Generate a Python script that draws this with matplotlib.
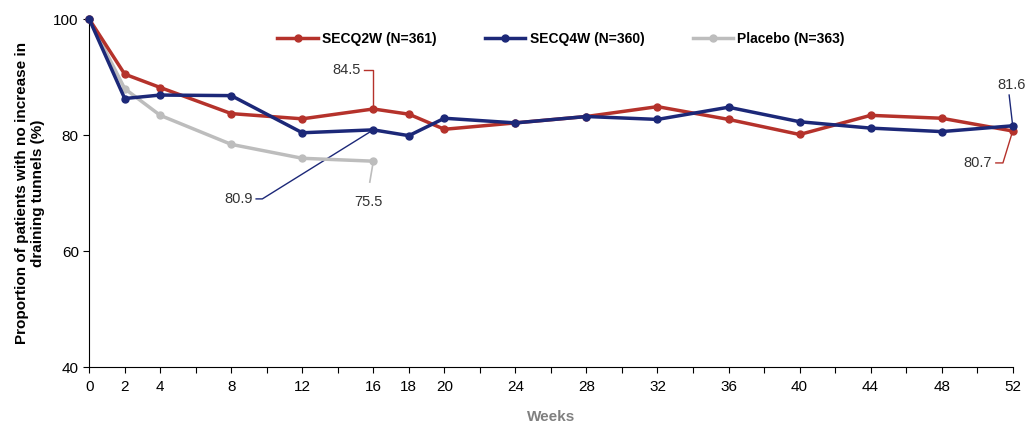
import numpy as np
import matplotlib.pyplot as plt

# dados
semanas = [0, 2, 4, 8, 12, 16, 18, 20, 24, 28, 32, 36, 40, 44, 48, 52]
secq2w = [100, 90.5, 88.2, 83.7, 82.8, 84.5, 83.6, 81.0, 82.1, 83.2, 84.9, 82.7, 80.1, 83.4, 82.9, 80.7]
secq4w = [100, 86.3, 86.9, 86.8, 80.4, 80.9, 79.9, 82.9, 82.1, 83.2, 82.7, 84.8, 82.3, 81.2, 80.6, 81.6]
semanas_pbo = [0, 2, 4, 8, 12, 16]
placebo = [100, 88.0, 83.4, 78.4, 76.0, 75.5]

rotulos_x = [0, 2, 4, 8, 12, 16, 18, 20, 24, 28, 32, 36, 40, 44, 48, 52]

vermelho = '#B5322B'
azul = '#1C2878'
cinza = '#BDBDBD'

plt.rcParams['font.family'] = ['Liberation Sans', 'DejaVu Sans']

fig = plt.figure(figsize=(10.25, 4.23), dpi=100)
ax = fig.add_axes([0.087, 0.132, 0.901, 0.823])

ax.plot(semanas, secq2w, color=vermelho, lw=2.5, marker='o', ms=5, clip_on=False, zorder=3,
        label='SECQ2W (N=361)')
ax.plot(semanas, secq4w, color=azul, lw=2.5, marker='o', ms=5, clip_on=False, zorder=4,
        label='SECQ4W (N=360)')
ax.plot(semanas_pbo, placebo, color=cinza, lw=2.5, marker='o', ms=5, clip_on=False, zorder=2,
        label='Placebo (N=363)')

ax.set_xlim(0, 52)
ax.set_ylim(40, 100)
ax.set_yticks([40, 60, 80, 100])
ticks = np.arange(0, 53, 2)
ax.set_xticks(ticks)
ax.set_xticklabels([str(t) if t in rotulos_x else '' for t in ticks],
                   family=['Liberation Sans Narrow', 'Liberation Sans'])
ax.tick_params(axis='both', labelsize=11, length=4, width=0.8)
ax.tick_params(axis='x', pad=5)

for s in ['top', 'right']:
    ax.spines[s].set_visible(False)

ax.set_ylabel('Proportion of patients with no increase in\ndraining tunnels (%)',
              fontsize=11, fontweight='bold', labelpad=6)
ax.set_xlabel('Weeks', fontsize=11, fontweight='bold', color='#808080', labelpad=12)

# anotações com linhas de chamada
ax.plot([16, 16, 15.5], [84.5, 91.2, 91.2], color=vermelho, lw=1, zorder=1)
ax.text(15.3, 91.2, '84.5', ha='right', va='center', fontsize=10.5, color='#333333')

ax.plot([16, 9.75, 9.4], [80.9, 69.0, 69.0], color=azul, lw=1, zorder=1)
ax.text(9.2, 69.0, '80.9', ha='right', va='center', fontsize=10.5, color='#333333')

ax.plot([16, 15.8], [75.5, 71.9], color=cinza, lw=1.2, zorder=1)
ax.text(15.7, 68.5, '75.5', ha='center', va='center', fontsize=10.5, color='#333333')

ax.plot([52, 51.8], [81.6, 86.9], color=azul, lw=1, zorder=1)
ax.text(51.95, 88.6, '81.6', ha='center', va='center', fontsize=10.5, color='#333333',
        clip_on=False)

ax.plot([52, 51.45, 51.05], [80.7, 75.2, 75.2], color=vermelho, lw=1, zorder=1)
ax.text(50.85, 75.2, '80.7', ha='right', va='center', fontsize=10.5, color='#333333')

ax.legend(loc='upper center', bbox_to_anchor=(0.511, 1.0), ncol=3, frameon=False,
          prop={'weight': 'bold', 'size': 10}, handlelength=2.9, columnspacing=3.5,
          handletextpad=0.3)

plt.savefig('out.png')
